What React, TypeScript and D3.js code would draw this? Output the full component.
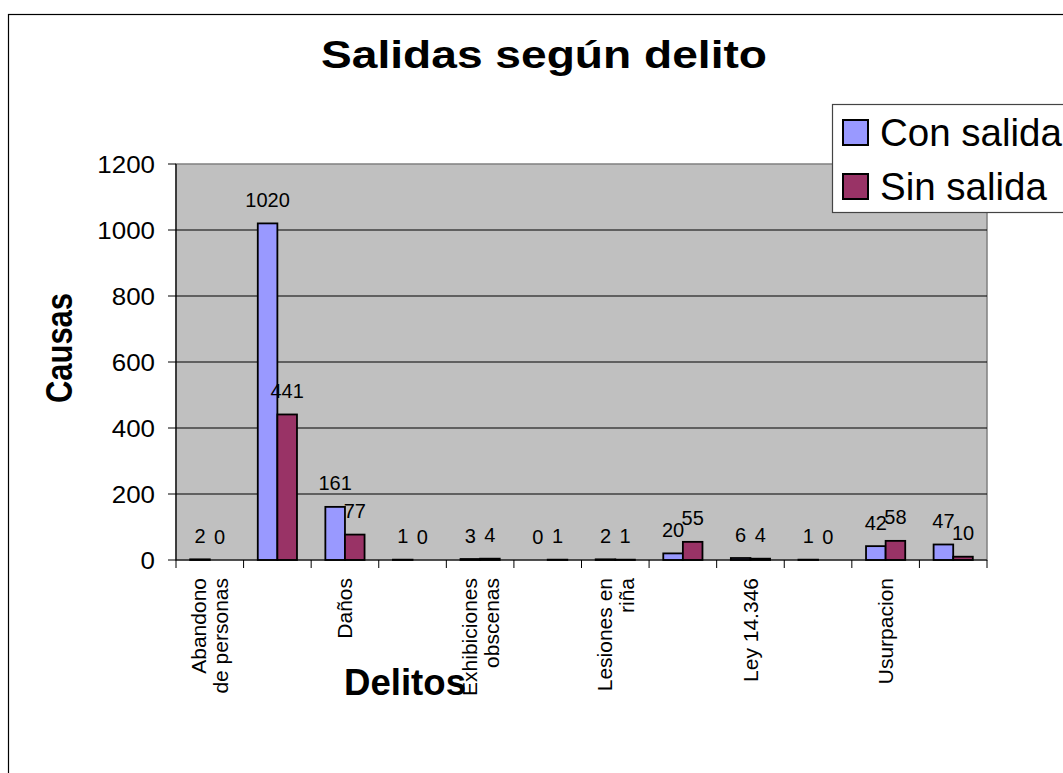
import React from "react";
import * as d3 from "d3";

const categories: string[][] = [
  ["Abandono", "de personas"],
  [],
  ["Daños"],
  [],
  ["Exhibiciones", "obscenas"],
  [],
  ["Lesiones en", "riña"],
  [],
  ["Ley 14.346"],
  [],
  ["Usurpacion"],
  [],
];
const conSalida = [2, 1020, 161, 1, 3, 0, 2, 20, 6, 1, 42, 47];
const sinSalida = [0, 441, 77, 0, 4, 1, 1, 55, 4, 0, 58, 10];
const seriesNames = ["Con salida", "Sin salida"];
const seriesColors = ["#9999FF", "#993366"];
const yTicks = [0, 200, 400, 600, 800, 1000, 1200];

const FONT = "Arial, 'Liberation Sans', Helvetica, sans-serif";

export default function App() {
  const W = 1063;
  const H = 773;
  const left = 176;
  const right = 987;
  const top = 164;
  const bottom = 560;

  const x = d3
    .scaleBand<number>()
    .domain(d3.range(categories.length))
    .range([left, right])
    .padding(0);
  const bw = x.bandwidth();
  const groupW = bw * 0.58;
  const inner = d3
    .scaleBand<number>()
    .domain([0, 1])
    .range([(bw - groupW) / 2, (bw + groupW) / 2])
    .padding(0);
  const y = d3.scaleLinear().domain([0, 1200]).range([bottom, top]);
  const series = [conSalida, sinSalida];

  return (
    <svg
      width={W}
      height={H}
      style={{ display: "block", position: "absolute", left: 0, top: 0 }}
      fontFamily={FONT}
    >
      <rect x={0} y={0} width={W} height={H} fill="#fff" />
      <rect x={8.5} y={14.5} width={1200} height={900} fill="#fff" stroke="#000" strokeWidth={1.2} />

      {/* plot area */}
      <rect x={left} y={top} width={right - left} height={bottom - top} fill="#C0C0C0" stroke="#808080" strokeWidth={1.5} />
      {yTicks
        .filter((t) => t > 0 && t < 1200)
        .map((t) => (
          <line key={"g" + t} x1={left} x2={right} y1={y(t)} y2={y(t)} stroke="#000" strokeWidth={1} />
        ))}

      {/* bars */}
      {series.map((vals, si) =>
        vals.map((v, ci) => (
          <rect
            key={`b${si}-${ci}`}
            x={(x(ci) as number) + (inner(si) as number)}
            y={y(v)}
            width={inner.bandwidth()}
            height={bottom - y(v)}
            fill={seriesColors[si]}
            stroke="#000"
            strokeWidth={1.8}
          />
        ))
      )}

      {/* axes */}
      <line x1={left} x2={left} y1={top} y2={bottom} stroke="#000" strokeWidth={1.2} />
      <line x1={left} x2={right} y1={bottom} y2={bottom} stroke="#000" strokeWidth={1.2} />
      {yTicks.map((t) => (
        <g key={"yt" + t}>
          <line x1={left - 8} x2={left} y1={y(t)} y2={y(t)} stroke="#000" strokeWidth={1} />
          <text
            transform={`translate(${left - 21},${y(t) + 8.5}) scale(1.08,1)`}
            textAnchor="end"
            fontSize={24}
            fill="#000"
          >
            {t}
          </text>
        </g>
      ))}
      {d3.range(categories.length + 1).map((i) => {
        const xx = left + i * bw;
        return <line key={"xt" + i} x1={xx} x2={xx} y1={bottom} y2={bottom + 8} stroke="#000" strokeWidth={1} />;
      })}

      {/* value labels */}
      {series.map((vals, si) =>
        vals.map((v, ci) => (
          <text
            key={`l${si}-${ci}`}
            x={(x(ci) as number) + (inner(si) as number) + inner.bandwidth() / 2}
            y={y(v) - 16.5}
            textAnchor="middle"
            fontSize={20}
            fill="#000"
          >
            {v}
          </text>
        ))
      )}

      {/* category labels */}
      {categories.map((lines, ci) => {
        const cx = (x(ci) as number) + bw / 2;
        const lh = 22;
        const n = lines.length;
        return lines.map((ln, li) => {
          const lx = cx + (li - (n - 1) / 2) * lh + 7.5;
          return (
            <text
              key={`c${ci}-${li}`}
              transform={`translate(${lx},${578}) rotate(-90)`}
              textAnchor="end"
              fontSize={21}
              fill="#000"
            >
              {ln}
            </text>
          );
        });
      })}

      {/* titles */}
      <text x={544} y={68} textAnchor="middle" fontSize={39} fontWeight="bold" textLength={446} lengthAdjust="spacingAndGlyphs">
        Salidas según delito
      </text>
      <text
        transform={`translate(72,348) rotate(-90)`}
        textAnchor="middle"
        fontSize={37}
        fontWeight="bold"
        textLength={110}
        lengthAdjust="spacingAndGlyphs"
      >
        Causas
      </text>
      <text x={405} y={695} textAnchor="middle" fontSize={37} fontWeight="bold" textLength={122} lengthAdjust="spacingAndGlyphs">
        Delitos
      </text>

      {/* legend */}
      <rect x={832.5} y={104.5} width={300} height={108} fill="#fff" stroke="#444" strokeWidth={1.2} />
      {seriesNames.map((nm, i) => (
        <g key={"lg" + i}>
          <rect x={843} y={120 + i * 54} width={25} height={25} fill={seriesColors[i]} stroke="#000" strokeWidth={2} />
          <text x={880} y={145.5 + i * 54} fontSize={38.5} fill="#000">
            {nm}
          </text>
        </g>
      ))}
    </svg>
  );
}
